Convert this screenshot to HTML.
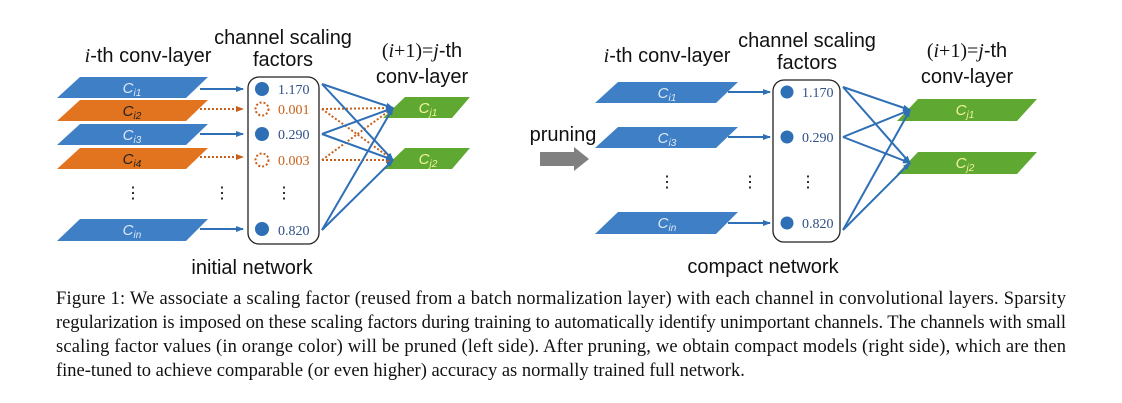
<!DOCTYPE html>
<html><head><meta charset="utf-8"><style>
html,body{margin:0;padding:0;background:#fff;}
svg{display:block;}
.t{font-family:"Liberation Sans",sans-serif;font-size:20px;fill:#111;}
.v{font-family:"Liberation Serif",serif;font-size:14px;}
.c{font-family:"Liberation Serif",serif;font-size:18.5px;fill:#111;}
.lab{font-family:"Liberation Sans",sans-serif;font-style:italic;font-size:15px;}
</style></head><body>
<svg width="1122" height="403" viewBox="0 0 1122 403" xmlns="http://www.w3.org/2000/svg">
<defs>
<marker id="ab" markerWidth="8" markerHeight="8" refX="7" refY="4" orient="auto" markerUnits="userSpaceOnUse"><path d="M0,1 L8,4 L0,7 z" fill="#2e6fb5"/></marker>
<marker id="ao" markerWidth="8" markerHeight="8" refX="7" refY="4" orient="auto" markerUnits="userSpaceOnUse"><path d="M0,1 L8,4 L0,7 z" fill="#c8601a"/></marker>
</defs>
<!-- LEFT PANEL -->
<text class="t" x="148" y="62" text-anchor="middle"><tspan font-family="Liberation Serif" font-style="italic">i</tspan>-th conv-layer</text>
<text class="t" x="283" y="44" text-anchor="middle">channel scaling</text>
<text class="t" x="283" y="66" text-anchor="middle">factors</text>
<text class="t" x="422" y="57" text-anchor="middle"><tspan font-family="Liberation Serif">(<tspan font-style="italic">i</tspan>+1)=<tspan font-style="italic">j</tspan></tspan>-th</text>
<text class="t" x="422" y="83" text-anchor="middle">conv-layer</text>

<g>
<polygon points="80,77 208,77 186,98 57,98" fill="#3f7fc6"/>
<text class="lab" x="132" y="93" text-anchor="middle" fill="#dce8f6">C<tspan font-size="10" dy="3">i1</tspan></text>
<polygon points="80,100 208,100 186,121 57,121" fill="#e2731f"/>
<text class="lab" x="132" y="116" text-anchor="middle" fill="#222">C<tspan font-size="10" dy="3">i2</tspan></text>
<polygon points="80,124 208,124 186,145 57,145" fill="#3f7fc6"/>
<text class="lab" x="132" y="140" text-anchor="middle" fill="#dce8f6">C<tspan font-size="10" dy="3">i3</tspan></text>
<polygon points="80,148 208,148 186,169 57,169" fill="#e2731f"/>
<text class="lab" x="132" y="164" text-anchor="middle" fill="#222">C<tspan font-size="10" dy="3">i4</tspan></text>
<polygon points="80,219 208,219 186,241 57,241" fill="#3f7fc6"/>
<text class="lab" x="132" y="235" text-anchor="middle" fill="#dce8f6">C<tspan font-size="10" dy="3">in</tspan></text>
</g>
<text x="133" y="198" font-size="16" text-anchor="middle" font-family="Liberation Sans">⋮</text>
<text x="222" y="198" font-size="16" text-anchor="middle" font-family="Liberation Sans">⋮</text>
<text x="284" y="198" font-size="16" text-anchor="middle" font-family="Liberation Sans">⋮</text>

<g stroke-width="2" fill="none">
<line x1="200" y1="89" x2="243" y2="89" stroke="#2e6fb5" marker-end="url(#ab)"/>
<line x1="200" y1="109" x2="243" y2="109" stroke="#c8601a" stroke-dasharray="2,2" marker-end="url(#ao)"/>
<line x1="200" y1="134" x2="243" y2="134" stroke="#2e6fb5" marker-end="url(#ab)"/>
<line x1="200" y1="157" x2="243" y2="157" stroke="#c8601a" stroke-dasharray="2,2" marker-end="url(#ao)"/>
<line x1="200" y1="229" x2="243" y2="229" stroke="#2e6fb5" marker-end="url(#ab)"/>
</g>
<rect x="248" y="77" width="71" height="167" rx="11" fill="none" stroke="#222" stroke-width="1.3"/>
<circle cx="262" cy="89" r="7" fill="#2e6fb5"/>
<circle cx="262" cy="109" r="6.5" fill="none" stroke="#c8601a" stroke-width="2" stroke-dasharray="2,2"/>
<circle cx="262" cy="134" r="7" fill="#2e6fb5"/>
<circle cx="262" cy="160" r="6.5" fill="none" stroke="#c8601a" stroke-width="2" stroke-dasharray="2,2"/>
<circle cx="262" cy="229" r="7" fill="#2e6fb5"/>
<text class="v" x="278" y="94" fill="#2f4f86">1.170</text>
<text class="v" x="278" y="114" fill="#c8601a">0.001</text>
<text class="v" x="278" y="139" fill="#2f4f86">0.290</text>
<text class="v" x="278" y="165" fill="#c8601a">0.003</text>
<text class="v" x="278" y="235" fill="#2f4f86">0.820</text>

<polygon points="405,97 470,97 452,118 383,118" fill="#5fa832"/>
<text class="lab" x="428" y="113" text-anchor="middle" fill="#f2f2a0">C<tspan font-size="10" dy="3">j1</tspan></text>
<polygon points="405,148 470,148 452,169 383,169" fill="#5fa832"/>
<text class="lab" x="428" y="164" text-anchor="middle" fill="#f2f2a0">C<tspan font-size="10" dy="3">j2</tspan></text>

<g stroke-width="2" fill="none">
<line x1="322" y1="109" x2="393" y2="108" stroke="#c8601a" stroke-dasharray="2,2" marker-end="url(#ao)"/>
<line x1="322" y1="109" x2="393" y2="160" stroke="#c8601a" stroke-dasharray="2,2" marker-end="url(#ao)"/>
<line x1="322" y1="160" x2="393" y2="108" stroke="#c8601a" stroke-dasharray="2,2" marker-end="url(#ao)"/>
<line x1="322" y1="160" x2="393" y2="160" stroke="#c8601a" stroke-dasharray="2,2" marker-end="url(#ao)"/>
<line x1="322" y1="84" x2="393" y2="108" stroke="#2e6fb5" marker-end="url(#ab)"/>
<line x1="322" y1="84" x2="393" y2="160" stroke="#2e6fb5" marker-end="url(#ab)"/>
<line x1="322" y1="134" x2="393" y2="108" stroke="#2e6fb5" marker-end="url(#ab)"/>
<line x1="322" y1="134" x2="393" y2="160" stroke="#2e6fb5" marker-end="url(#ab)"/>
<line x1="322" y1="230" x2="393" y2="108" stroke="#2e6fb5" marker-end="url(#ab)"/>
<line x1="322" y1="230" x2="393" y2="160" stroke="#2e6fb5" marker-end="url(#ab)"/>
</g>
<text class="t" x="252" y="274" text-anchor="middle">initial network</text>

<!-- PRUNING -->
<text class="t" x="563" y="141" text-anchor="middle" font-size="17">pruning</text>
<polygon points="540,152 574,152 574,147 589,159 574,171 574,166 540,166" fill="#808080"/>

<!-- RIGHT PANEL -->
<text class="t" x="667" y="62" text-anchor="middle"><tspan font-family="Liberation Serif" font-style="italic">i</tspan>-th conv-layer</text>
<text class="t" x="807" y="47" text-anchor="middle">channel scaling</text>
<text class="t" x="807" y="69" text-anchor="middle">factors</text>
<text class="t" x="967" y="57" text-anchor="middle"><tspan font-family="Liberation Serif">(<tspan font-style="italic">i</tspan>+1)=<tspan font-style="italic">j</tspan></tspan>-th</text>
<text class="t" x="967" y="83" text-anchor="middle">conv-layer</text>

<polygon points="618,82 738,82 716,103 595,103" fill="#3f7fc6"/>
<text class="lab" x="667" y="98" text-anchor="middle" fill="#dce8f6">C<tspan font-size="10" dy="3">i1</tspan></text>
<polygon points="618,127 738,127 716,148 595,148" fill="#3f7fc6"/>
<text class="lab" x="667" y="143" text-anchor="middle" fill="#dce8f6">C<tspan font-size="10" dy="3">i3</tspan></text>
<polygon points="618,212 738,212 716,234 595,234" fill="#3f7fc6"/>
<text class="lab" x="667" y="228" text-anchor="middle" fill="#dce8f6">C<tspan font-size="10" dy="3">in</tspan></text>
<text x="667" y="187" font-size="16" text-anchor="middle" font-family="Liberation Sans">⋮</text>
<text x="750" y="187" font-size="16" text-anchor="middle" font-family="Liberation Sans">⋮</text>
<text x="808" y="187" font-size="16" text-anchor="middle" font-family="Liberation Sans">⋮</text>

<g stroke-width="2" fill="none" stroke="#2e6fb5">
<line x1="728" y1="92" x2="770" y2="92" marker-end="url(#ab)"/>
<line x1="728" y1="137" x2="770" y2="137" marker-end="url(#ab)"/>
<line x1="728" y1="223" x2="770" y2="223" marker-end="url(#ab)"/>
</g>
<rect x="773" y="80" width="67" height="162" rx="11" fill="none" stroke="#222" stroke-width="1.3"/>
<circle cx="787" cy="92" r="6.5" fill="#2e6fb5"/>
<circle cx="787" cy="137" r="6.5" fill="#2e6fb5"/>
<circle cx="787" cy="223" r="6.5" fill="#2e6fb5"/>
<text class="v" x="802" y="97" fill="#2f4f86">1.170</text>
<text class="v" x="802" y="142" fill="#2f4f86">0.290</text>
<text class="v" x="802" y="228" fill="#2f4f86">0.820</text>

<polygon points="918,99 1037,99 1017,121 897,121" fill="#5fa832"/>
<text class="lab" x="965" y="115" text-anchor="middle" fill="#f2f2a0">C<tspan font-size="10" dy="3">j1</tspan></text>
<polygon points="918,152 1037,152 1017,174 897,174" fill="#5fa832"/>
<text class="lab" x="965" y="168" text-anchor="middle" fill="#f2f2a0">C<tspan font-size="10" dy="3">j2</tspan></text>

<g stroke-width="2" fill="none" stroke="#2e6fb5">
<line x1="843" y1="87" x2="910" y2="110" marker-end="url(#ab)"/>
<line x1="843" y1="87" x2="910" y2="163" marker-end="url(#ab)"/>
<line x1="843" y1="137" x2="910" y2="110" marker-end="url(#ab)"/>
<line x1="843" y1="137" x2="910" y2="163" marker-end="url(#ab)"/>
<line x1="843" y1="230" x2="910" y2="110" marker-end="url(#ab)"/>
<line x1="843" y1="230" x2="910" y2="163" marker-end="url(#ab)"/>
</g>
<text class="t" x="763" y="273" text-anchor="middle">compact network</text>

<!-- CAPTION -->
<text class="c" x="56" y="304" textLength="1010" lengthAdjust="spacing">Figure 1:  We associate a scaling factor (reused from a batch normalization layer) with each channel in convolutional layers.  Sparsity</text>
<text class="c" x="56" y="328" textLength="1010" lengthAdjust="spacing">regularization is imposed on these scaling factors during training to automatically identify unimportant channels. The channels with small</text>
<text class="c" x="56" y="352" textLength="1010" lengthAdjust="spacing">scaling factor values (in orange color) will be pruned (left side).  After pruning, we obtain compact models (right side), which are then</text>
<text class="c" x="56" y="376">fine-tuned to achieve comparable (or even higher) accuracy as normally trained full network.</text>
</svg>
</body></html>
